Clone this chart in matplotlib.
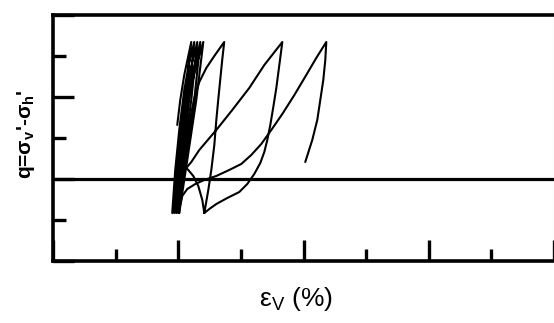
import matplotlib
matplotlib.use("Agg")
import matplotlib.pyplot as plt
from matplotlib.ticker import MultipleLocator

plt.rcParams["mathtext.fontset"] = "custom"
plt.rcParams["mathtext.rm"] = "Liberation Sans"
plt.rcParams["mathtext.it"] = "Liberation Sans:bold"
plt.rcParams["mathtext.bf"] = "Liberation Sans:bold"

# Volumetric strain (%) and deviator stress q along the cyclic stress path.
# Early, steep cycles starting from the consolidated state.
cluster_eps = [-0.008, 0.016, 0.048, 0.104, 0.056, 0.008, -0.048,
               -0.024, 0.008, 0.048, 0.088, 0.128, 0.080, 0.024, -0.032,
               -0.008, 0.024, 0.064, 0.112, 0.152, 0.104, 0.040, -0.016,
               0.008, 0.040, 0.080, 0.136, 0.176, 0.128, 0.056, 0.000,
               0.024, 0.056, 0.096, 0.152, 0.200, 0.144, 0.072, 0.008]
cluster_q = [0.659, 0.963, 1.268, 1.671, 0.963, 0.232, -0.415,
             0.110, 0.598, 1.085, 1.427, 1.671, 0.963, 0.232, -0.415,
             0.110, 0.598, 1.085, 1.427, 1.671, 0.963, 0.232, -0.415,
             0.110, 0.598, 1.085, 1.427, 1.671, 0.963, 0.232, -0.415,
             0.110, 0.598, 1.085, 1.427, 1.671, 0.963, 0.232, -0.415]

# Two wider cycles that follow
mid_eps = [0.008, 0.024, 0.048, 0.072, 0.096, 0.128, 0.168, 0.224, 0.288, 0.367,
           0.351, 0.335, 0.319, 0.304, 0.288, 0.264, 0.240, 0.208,
           0.192, 0.160, 0.120, 0.080, 0.064,
           0.104, 0.168, 0.304, 0.431, 0.567, 0.687, 0.831,
           0.807, 0.783, 0.759, 0.735, 0.711, 0.687, 0.655, 0.607, 0.551, 0.487,
           0.391, 0.304, 0.248, 0.208]
mid_q = [-0.415, -0.134, 0.171, 0.476, 0.744, 0.988, 1.183, 1.354, 1.500, 1.671,
         1.451, 1.207, 0.963, 0.720, 0.415, 0.110, -0.134, -0.415,
         -0.256, -0.085, 0.037, 0.110, 0.134,
         0.207, 0.354, 0.598, 0.841, 1.110, 1.390, 1.671,
         1.390, 1.110, 0.878, 0.659, 0.476, 0.329, 0.195, 0.061, -0.061, -0.159,
         -0.232, -0.305, -0.366, -0.415]

# Last cycle, ending part-way through unloading
last_eps = [0.016, 0.032, 0.072, 0.136, 0.208, 0.304, 0.407, 0.503, 0.583, 0.663,
            0.743, 0.831, 0.927, 1.022, 1.102, 1.182,
            1.174, 1.158, 1.134, 1.110, 1.070, 1.014]
last_q = [-0.317, -0.207, -0.122, -0.061, -0.012, 0.037, 0.110, 0.183, 0.293, 0.427,
          0.598, 0.793, 1.024, 1.268, 1.476, 1.671,
          1.451, 1.207, 0.963, 0.720, 0.476, 0.207]

x_major = [-1, 0, 1, 2, 3]
y_major = [-1, 0, 1, 2]

fig = plt.figure(figsize=(5.54, 3.23), dpi=100)
ax = fig.add_axes([53 / 554, 62 / 323, 501 / 554, 246 / 323])

for xs, ys in [(cluster_eps, cluster_q), (mid_eps, mid_q), (last_eps, last_q)]:
    ax.plot(xs, ys, color="black", lw=1.5, solid_joinstyle="round",
            solid_capstyle="round")
ax.axhline(0, color="black", lw=2.3)

ax.set_xlim(-1, 3)
ax.set_ylim(-1, 2)
ax.set_xticks(x_major)
ax.set_yticks(y_major)
ax.xaxis.set_minor_locator(MultipleLocator(0.5))
ax.yaxis.set_minor_locator(MultipleLocator(0.5))
ax.tick_params(which="major", direction="in", length=15, width=2.4,
               labelbottom=False, labelleft=False)
ax.tick_params(which="minor", direction="in", length=9, width=2.4)
ax.tick_params(top=False, right=False, which="both")

for side in ["left", "top", "bottom"]:
    ax.spines[side].set_linewidth(2.6)
ax.spines["right"].set_linewidth(0.8)
ax.spines["right"].set_color("#bbbbbb")

fig.text(0.047, 0.585, "q=σ$_v$'-σ$_h$'", rotation=90, ha="center", va="center",
         fontsize=15, fontweight="bold", family="Liberation Sans")
fig.text(0.534, 0.074, r"ε$_\mathrm{V}$ (%)", ha="center", va="center",
         fontsize=19, family="Liberation Sans")

fig.savefig("out.png", dpi=100)
